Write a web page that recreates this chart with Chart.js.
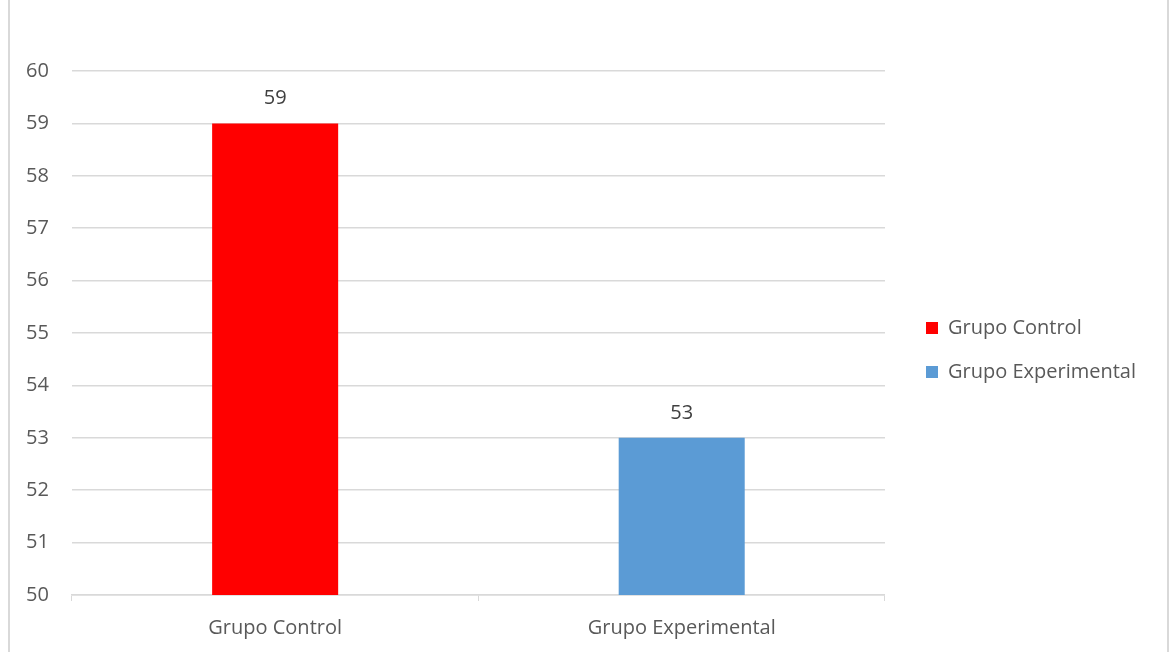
<!DOCTYPE html>
<html lang="es">
<head>
    <meta charset="UTF-8">
    <title>Grupo Control vs Grupo Experimental</title>
    <script src="https://cdn.jsdelivr.net/npm/chart.js@4.4.1/dist/chart.umd.min.js"></script>
    <style>
        body { margin: 0; background: #fff; }
        #wrap { position: relative; width: 1171px; height: 652px; }
        #frame { position: absolute; left: 8px; top: 0; width: 1157px; height: 652px;
                 border-left: 2px solid #d9d9d9; border-right: 2px solid #d9d9d9; }
        canvas { position: absolute; left: 0; top: 0; }
    </style>
</head>
<body>
<div id="wrap">
    <div id="frame"></div>
    <canvas id="grafico" width="1171" height="652"></canvas>
</div>

<script>
    const categorias = ['Grupo Control', 'Grupo Experimental'];
    const valores = [59, 53];
    const colores = ['#ff0000', '#5b9bd5'];
    const ticksY = [50, 51, 52, 53, 54, 55, 56, 57, 58, 59, 60];

    const fuente = { family: "'Open Sans', sans-serif", size: 20 };
    const gris = '#595959';

    // etiquetas de valor encima de cada barra
    const etiquetas = {
        id: 'etiquetas',
        afterDatasetsDraw(chart) {
            const ctx = chart.ctx;
            const meta = chart.getDatasetMeta(0);
            ctx.save();
            ctx.font = fuente.size + 'px ' + fuente.family;
            ctx.fillStyle = '#404040';
            ctx.textAlign = 'center';
            ctx.textBaseline = 'middle';
            meta.data.forEach((bar, i) => {
                ctx.fillText(String(valores[i]), bar.x, bar.y - 25);
            });
            ctx.restore();
        }
    };

    // deja un hueco entre el área del gráfico y la leyenda, y la sube un poco
    const HUECO = 17;
    const ajusteLeyenda = {
        id: 'ajusteLeyenda',
        beforeLayout(chart) {
            const leyenda = chart.legend;
            if (leyenda && !leyenda._ajustada) {
                const fitOriginal = leyenda.fit;
                leyenda.fit = function () {
                    fitOriginal.call(this);
                    this.width += HUECO;
                };
                leyenda._ajustada = true;
            }
        },
        afterLayout(chart) {
            const leyenda = chart.legend;
            leyenda.left += HUECO;
            leyenda.top -= 13;
            leyenda.bottom -= 13;
        }
    };

    new Chart(document.getElementById('grafico'), {
        type: 'bar',
        data: {
            labels: categorias,
            datasets: [{
                label: 'Valor',
                data: valores,
                backgroundColor: colores,
                borderWidth: 0,
                categoryPercentage: 1,
                barPercentage: 0.31
            }]
        },
        options: {
            responsive: false,
            animation: false,
            layout: { padding: { left: 3, right: 25, top: 71, bottom: -3 } },
            plugins: {
                tooltip: { enabled: false },
                legend: {
                    position: 'right',
                    labels: {
                        boxWidth: 12,
                        boxHeight: 12,
                        padding: 24,
                        color: gris,
                        font: fuente,
                        generateLabels(chart) {
                            return chart.data.labels.map((l, i) => ({
                                text: l,
                                fillStyle: colores[i],
                                strokeStyle: colores[i],
                                fontColor: gris,
                                lineWidth: 0,
                                index: i
                            }));
                        }
                    }
                }
            },
            scales: {
                x: {
                    grid: { drawOnChartArea: false, drawTicks: true, tickLength: 6, color: '#d9d9d9' },
                    border: { color: '#d9d9d9', width: 1.5 },
                    ticks: { color: gris, font: { ...fuente, lineHeight: 1 }, padding: 17 }
                },
                y: {
                    min: ticksY[0],
                    max: ticksY[ticksY.length - 1],
                    afterBuildTicks(scale) {
                        scale.ticks = ticksY.map(v => ({ value: v }));
                    },
                    grid: { color: '#d9d9d9', lineWidth: 1.5, drawTicks: false },
                    border: { display: false },
                    ticks: { color: gris, font: fuente, padding: 23 }
                }
            }
        },
        plugins: [etiquetas, ajusteLeyenda]
    });
</script>
</body>
</html>
